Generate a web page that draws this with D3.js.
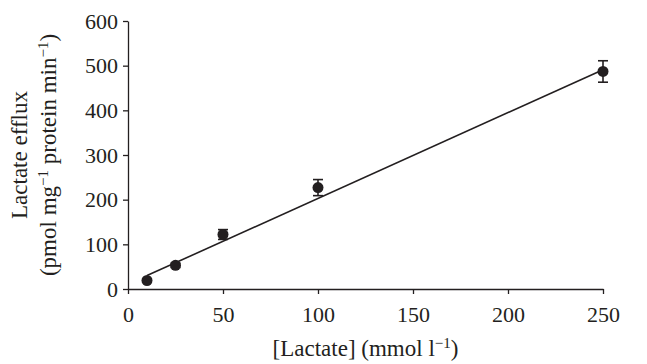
<!DOCTYPE html>
<html>
<head>
<meta charset="utf-8">
<script src="https://d3js.org/d3.v7.min.js"></script>
<style>
  body { margin: 0; background: #fff; }
  text { font-family: "Liberation Serif", "Times New Roman", serif; fill: #231f20; }
  .axis path, .axis line { stroke: #231f20; stroke-width: 1.3px; }
  .axis text { font-size: 22px; }
</style>
</head>
<body>
<script>
// lactate concentration (mmol l-1)
var lactate = [10, 25, 50, 100, 250];
// efflux (pmol mg-1 protein min-1)
var efflux = [19, 53, 122, 227, 487];
var errors = [3, 5, 11, 18, 24];
// regression line end points
var fitX = [10, 250];
var fitY = [30, 491];
var xTicks = [0, 50, 100, 150, 200, 250];
var yTicks = [0, 100, 200, 300, 400, 500, 600];

var width = 647, height = 364;
var margin = {left: 128, top: 21, right: 44, bottom: 75};

var svg = d3.select("body").append("svg")
    .attr("width", width)
    .attr("height", height);

var x = d3.scaleLinear().domain([0, 250]).range([margin.left, width - margin.right]);
var y = d3.scaleLinear().domain([0, 600]).range([height - margin.bottom, margin.top]);

svg.append("g")
    .attr("class", "axis")
    .attr("transform", "translate(0," + (height - margin.bottom) + ")")
    .call(d3.axisBottom(x).tickValues(xTicks).tickSize(5).tickSizeOuter(0))
    .selectAll("text").attr("y", 33).attr("dy", 0);

svg.append("g")
    .attr("class", "axis")
    .attr("transform", "translate(" + margin.left + ",0)")
    .call(d3.axisLeft(y).tickValues(yTicks).tickSize(5).tickSizeOuter(0).tickPadding(5));

svg.selectAll(".domain").attr("fill", "none");

// fit line
svg.append("line")
    .attr("x1", x(fitX[0])).attr("y1", y(fitY[0]))
    .attr("x2", x(fitX[1])).attr("y2", y(fitY[1]))
    .attr("stroke", "#231f20")
    .attr("stroke-width", 1.6);

var pts = lactate.map(function (d, i) { return {x: d, y: efflux[i], e: errors[i]}; });

var eb = svg.append("g").selectAll("g")
    .data(pts)
    .enter().append("g")
    .attr("stroke", "#231f20")
    .attr("stroke-width", 1.6);

eb.append("line")
    .attr("x1", function (d) { return x(d.x); })
    .attr("x2", function (d) { return x(d.x); })
    .attr("y1", function (d) { return y(d.y - d.e); })
    .attr("y2", function (d) { return y(d.y + d.e); });
eb.append("line")
    .attr("x1", function (d) { return x(d.x) - 5; })
    .attr("x2", function (d) { return x(d.x) + 5; })
    .attr("y1", function (d) { return y(d.y + d.e); })
    .attr("y2", function (d) { return y(d.y + d.e); });
eb.append("line")
    .attr("x1", function (d) { return x(d.x) - 5; })
    .attr("x2", function (d) { return x(d.x) + 5; })
    .attr("y1", function (d) { return y(d.y - d.e); })
    .attr("y2", function (d) { return y(d.y - d.e); });

svg.append("g").selectAll("circle")
    .data(pts)
    .enter().append("circle")
    .attr("cx", function (d) { return x(d.x); })
    .attr("cy", function (d) { return y(d.y); })
    .attr("r", 5.5)
    .attr("fill", "#231f20");

// x label
var xl = svg.append("text")
    .attr("x", (x(0) + x(250)) / 2)
    .attr("y", 356)
    .attr("text-anchor", "middle")
    .style("font-size", "23px");
xl.append("tspan").text("[Lactate] (mmol l");
xl.append("tspan").text("\u22121").attr("dy", -8).style("font-size", "15px");
xl.append("tspan").text(")").attr("dy", 8);

// y label, two lines
var cy = (y(0) + y(600)) / 2;
svg.append("text")
    .attr("transform", "translate(27," + cy + ") rotate(-90)")
    .attr("text-anchor", "middle")
    .style("font-size", "23px")
    .text("Lactate efflux");

var yl = svg.append("text")
    .attr("transform", "translate(56," + cy + ") rotate(-90)")
    .attr("text-anchor", "middle")
    .style("font-size", "23px");
yl.append("tspan").text("(pmol mg");
yl.append("tspan").text("\u22121").attr("dy", -8).style("font-size", "15px");
yl.append("tspan").text(" protein min").attr("dy", 8);
yl.append("tspan").text("\u22121").attr("dy", -8).style("font-size", "15px");
yl.append("tspan").text(")").attr("dy", 8);
</script>
</body>
</html>
